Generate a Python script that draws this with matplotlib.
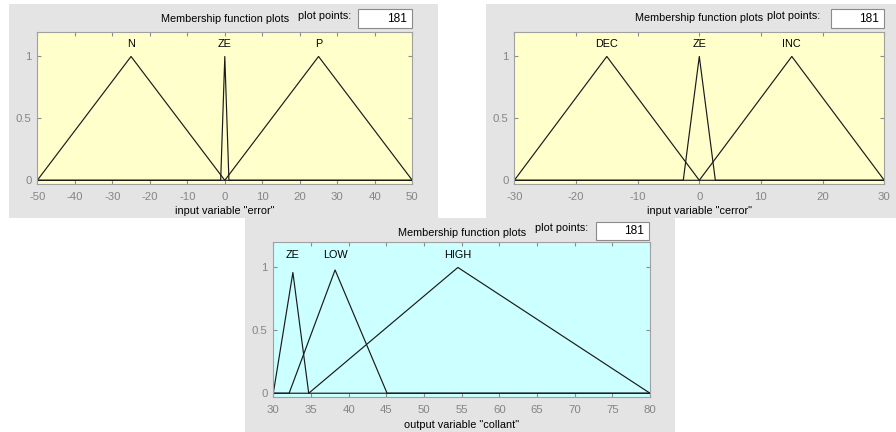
import matplotlib
matplotlib.use("Agg")
import matplotlib.pyplot as plt
from matplotlib.patches import Rectangle

plt.rcParams['font.family'] = ['Liberation Sans', 'DejaVu Sans']

W, H = 896, 432

# ---- data: triangle vertices (left foot, peak, right foot) and peak heights ----
err_range = [-50, 50]
err_names = ['N', 'ZE', 'P']
err_mfs = [[-50, -25, 0], [-1.1, 0, 1.1], [0, 25, 50]]
err_peaks = [1.0, 1.0, 1.0]
err_ticks = [-50, -40, -30, -20, -10, 0, 10, 20, 30, 40, 50]

cerr_range = [-30, 30]
cerr_names = ['DEC', 'ZE', 'INC']
cerr_mfs = [[-30, -15, 0], [-2.6, 0, 2.6], [0, 15, 30]]
cerr_peaks = [1.0, 1.0, 1.0]
cerr_ticks = [-30, -20, -10, 0, 10, 20, 30]

col_range = [30, 80]
col_names = ['ZE', 'LOW', 'HIGH']
col_mfs = [[30, 32.6, 34.7], [32.1, 38.2, 45.1], [34.7, 54.5, 80]]
col_peaks = [0.96, 0.98, 1.0]
col_ticks = [30, 35, 40, 45, 50, 55, 60, 65, 70, 75, 80]

y_ticks = [0, 0.5, 1]
y_labels = ['0', '0.5', '1']

GRAY = '#e4e4e4'
TICKC = '#8c8c8c'
FS = 7.8
TFS = 8.2


def fx(x):
    return x / W


def fy(y):
    return 1 - y / H


fig = plt.figure(figsize=(W / 100, H / 100), dpi=100)
fig.patch.set_facecolor('white')


def panel(box, ax_box, title_y, pp_x, pp_y, entry, xr, names, mfs, peaks, ticks, bg, xlabel):
    # grey window background
    x0, y0, x1, y1 = box
    fig.add_artist(Rectangle((fx(x0), fy(y1)), fx(x1 - x0), (y1 - y0) / H,
                             transform=fig.transFigure, facecolor=GRAY,
                             edgecolor='none', zorder=-5))
    l, t, r, b = ax_box
    ax = fig.add_axes([fx(l), fy(b), fx(r - l), (b - t) / H])
    ax.set_facecolor(bg)
    for i in range(len(names)):
        a, p, c = mfs[i]
        ax.plot([xr[0], a, p, c, xr[1]], [0, 0, peaks[i], 0, 0],
                color='#1a1a1a', lw=0.85)
        ax.text(p, 1.1, names[i], ha='center', va='center', fontsize=FS)
    ax.set_xlim(xr)
    ax.set_ylim(-0.03, 1.2)
    ax.set_xticks(ticks)
    ax.set_xticklabels([str(v) for v in ticks])
    ax.set_yticks(y_ticks)
    ax.set_yticklabels(y_labels)
    ax.tick_params(direction='in', length=3, width=0.8, color=TICKC,
                   labelcolor='#858585', labelsize=TFS, top=True, right=True,
                   pad=4)
    ax.tick_params(axis='x', pad=6)
    for s in ax.spines.values():
        s.set_color('#a0a0a0')
        s.set_linewidth(0.8)
    ax.set_xlabel(xlabel, fontsize=FS, labelpad=3)

    fig.text(fx((l + r) / 2), fy(title_y), 'Membership function plots',
             ha='center', va='center', fontsize=FS)
    fig.text(fx(pp_x), fy(pp_y), 'plot points:', ha='center', va='center', fontsize=FS)
    ex0, ey0, ex1, ey1 = entry
    fig.add_artist(Rectangle((fx(ex0), fy(ey1)), fx(ex1 - ex0), (ey1 - ey0) / H,
                             transform=fig.transFigure, facecolor='white',
                             edgecolor='#8a8a8a', lw=0.8))
    fig.text(fx(ex1 - 5), fy((ey0 + ey1) / 2), '181', ha='right', va='center',
             fontsize=FS + 0.8)
    return ax


panel((9, 4, 438, 218), (37.3, 31.7, 412.3, 184), 19, 325, 16, (358, 9, 412, 28),
      err_range, err_names, err_mfs, err_peaks, err_ticks, '#ffffcc',
      'input variable "error"')
panel((486, 4, 896, 218), (514.3, 31.7, 884.3, 184), 18, 794, 16, (831, 9, 884, 28),
      cerr_range, cerr_names, cerr_mfs, cerr_peaks, cerr_ticks, '#ffffcc',
      'input variable "cerror"')
panel((245, 218, 675, 432), (273.3, 242.3, 650, 397), 232.7, 562, 228, (596, 222, 649, 240),
      col_range, col_names, col_mfs, col_peaks, col_ticks, '#ccffff',
      'output variable "collant"')

fig.savefig('out.png', dpi=100)
